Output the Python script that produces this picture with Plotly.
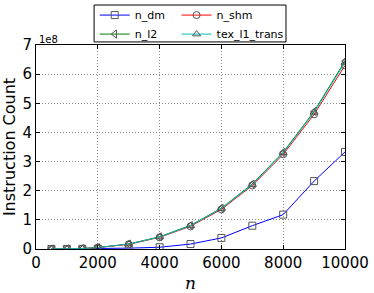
import plotly.graph_objects as go

n_values = [500, 1000, 1500, 2000, 3000, 4000, 5000, 6000, 7000, 8000, 9000, 10000]
n_dm = [0.001, 0.002, 0.004, 0.008, 0.03, 0.06, 0.17, 0.38, 0.80, 1.18, 2.33, 3.33]
n_shm = [0.003, 0.007, 0.015, 0.05, 0.16, 0.40, 0.78, 1.36, 2.18, 3.25, 4.62, 6.30]
n_l2 = [0.003, 0.007, 0.015, 0.05, 0.17, 0.42, 0.81, 1.40, 2.23, 3.32, 4.72, 6.45]
tex_l1_trans = [0.003, 0.007, 0.015, 0.05, 0.17, 0.41, 0.80, 1.39, 2.21, 3.30, 4.69, 6.40]
scale = 1e8
y_ticks = [0, 1, 2, 3, 4, 5, 6, 7]
x_ticks = [0, 2000, 4000, 6000, 8000, 10000]

series = [
    ("n_dm", n_dm, "#0000ff", "square-open", "legend"),
    ("n_l2", n_l2, "#008000", "triangle-left-open", "legend"),
    ("n_shm", n_shm, "#ff0000", "circle-open", "legend2"),
    ("tex_l1_trans", tex_l1_trans, "#00bfbf", "triangle-up-open", "legend2"),
]

fig = go.Figure()
for name, vals, col, sym, leg in series:
    fig.add_trace(go.Scatter(
        x=n_values, y=[v * scale for v in vals], name=name, mode="lines+markers",
        line=dict(color=col, width=1),
        marker=dict(symbol=sym, color="#555555", size=7, line=dict(width=1)),
        legend=leg,
    ))

axis_common = dict(
    showline=True, linecolor="black", linewidth=1, mirror="ticks",
    ticks="inside", ticklen=4, tickcolor="black",
    showgrid=True, gridcolor="#8a8a8a", griddash="1px,2px", gridwidth=1,
    zeroline=False, tickfont=dict(family="DejaVu Sans", size=15, color="black"),
)

fig.update_xaxes(range=[0, 10000], tickvals=x_ticks, ticktext=[str(t) for t in x_ticks],
                 title=dict(text="<i>n</i>", font=dict(family="DejaVu Serif", size=17, color="black"), standoff=6),
                 **axis_common)
fig.update_yaxes(range=[0, 7 * scale], tickvals=[t * scale for t in y_ticks], ticktext=[str(t) for t in y_ticks],
                 title=dict(text="Instruction Count", font=dict(family="DejaVu Sans", size=16, color="black"), standoff=4),
                 **axis_common)

fig.add_annotation(x=0, y=1, xref="paper", yref="paper", text="1e8", showarrow=False,
                   xanchor="left", yanchor="bottom", xshift=1, yshift=-2,
                   font=dict(family="DejaVu Sans", size=10, color="black"))

# legend frame
fig.add_shape(type="rect", xref="paper", yref="paper", x0=0.188, x1=0.809, y0=1.015, y1=1.196,
              line=dict(color="black", width=1), fillcolor="white", layer="above")

leg_common = dict(orientation="v", yref="container", xref="paper", xanchor="left", yanchor="top",
                  bgcolor="rgba(0,0,0,0)", borderwidth=0, tracegroupgap=0, itemwidth=30,
                  font=dict(family="DejaVu Sans", size=11, color="black"))

fig.update_layout(
    width=374, height=293,
    margin=dict(l=36, r=29, t=45, b=44, autoexpand=False),
    paper_bgcolor="white", plot_bgcolor="white",
    font=dict(family="DejaVu Sans", color="black"),
    legend=dict(x=0.19, y=0.998, **leg_common),
    legend2=dict(x=0.455, y=0.998, **leg_common),
)

fig.write_html("out.html", config={"displayModeBar": False},
               post_script="document.body.style.margin='0';document.body.style.padding='0';")
